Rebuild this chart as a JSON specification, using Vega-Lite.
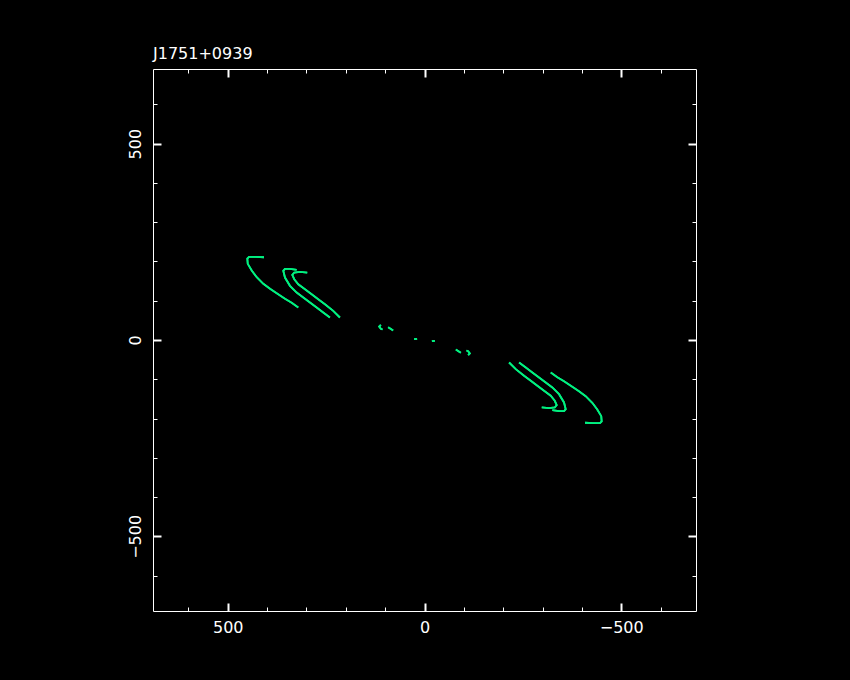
{
  "$schema": "https://vega.github.io/schema/vega-lite/v6.json",
  "width": 543,
  "height": 542,
  "autosize": {"type": "none"},
  "padding": {"left": 153, "top": 69, "right": 154, "bottom": 69},
  "background": "black",
  "title": {"text": "J1751+0939", "anchor": "start", "frame": "group", "color": "white", "font": "DejaVu Sans", "fontSize": 16, "fontWeight": "normal", "offset": -7, "baseline": "alphabetic"},
  "config": {
    "view": {"stroke": null},
    "axis": {
      "domainColor": "white", "domainWidth": 1, "tickColor": "white", "grid": false,
      "labelColor": "white", "labelFont": "DejaVu Sans", "labelFontSize": 16,
      "labelOverlap": false, "labelFlush": false, "labelBound": false
    }
  },
  "data": {"values": [
    {"track": "A", "i": 1, "u": 407.9, "v": 210.7}, {"track": "A", "i": 2, "u": 428.2, "v": 211.7}, {"track": "A", "i": 3, "u": 445.9, "v": 211.7}, {"track": "A", "i": 4, "u": 450.3, "v": 207.4}, {"track": "A", "i": 5, "u": 449.2, "v": 193.9}, {"track": "A", "i": 6, "u": 439.1, "v": 176.8}, {"track": "A", "i": 7, "u": 426.4, "v": 159.8}, {"track": "A", "i": 8, "u": 409.6, "v": 143.0}, {"track": "A", "i": 9, "u": 392.6, "v": 130.3}, {"track": "A", "i": 10, "u": 375.6, "v": 119.1}, {"track": "A", "i": 11, "u": 354.6, "v": 104.8}, {"track": "A", "i": 12, "u": 337.6, "v": 94.7}, {"track": "A", "i": 13, "u": 320.8, "v": 82.7},
    {"track": "B", "i": 1, "u": 324.9, "v": 178.6}, {"track": "B", "i": 2, "u": 341.9, "v": 181.2}, {"track": "B", "i": 3, "u": 354.6, "v": 181.2}, {"track": "B", "i": 4, "u": 358.9, "v": 176.1}, {"track": "B", "i": 5, "u": 354.6, "v": 159.0}, {"track": "B", "i": 6, "u": 341.9, "v": 137.9}, {"track": "B", "i": 7, "u": 324.9, "v": 120.9}, {"track": "B", "i": 8, "u": 308.1, "v": 108.1}, {"track": "B", "i": 9, "u": 291.1, "v": 95.4}, {"track": "B", "i": 10, "u": 274.1, "v": 82.7}, {"track": "B", "i": 11, "u": 257.4, "v": 70.0}, {"track": "B", "i": 12, "u": 240.4, "v": 57.3},
    {"track": "C", "i": 1, "u": 298.0, "v": 171.8}, {"track": "C", "i": 2, "u": 316.5, "v": 173.5}, {"track": "C", "i": 3, "u": 331.0, "v": 171.8}, {"track": "C", "i": 4, "u": 336.0, "v": 165.9}, {"track": "C", "i": 5, "u": 331.0, "v": 154.7}, {"track": "C", "i": 6, "u": 320.8, "v": 142.0}, {"track": "C", "i": 7, "u": 303.8, "v": 129.3}, {"track": "C", "i": 8, "u": 286.8, "v": 116.5}, {"track": "C", "i": 9, "u": 270.1, "v": 103.8}, {"track": "C", "i": 10, "u": 253.0, "v": 91.1}, {"track": "C", "i": 11, "u": 232.0, "v": 74.3}, {"track": "C", "i": 12, "u": 215.0, "v": 57.3},
    {"track": "S1", "i": 1, "u": 110.9, "v": 38.7}, {"track": "S1", "i": 2, "u": 115.2, "v": 34.4}, {"track": "S1", "i": 3, "u": 110.9, "v": 28.5}, {"track": "S1", "i": 4, "u": 106.6, "v": 26.7},
    {"track": "S2", "i": 1, "u": 92.4, "v": 32.6}, {"track": "S2", "i": 2, "u": 86.3, "v": 28.5}, {"track": "S2", "i": 3, "u": 79.7, "v": 24.2},
    {"track": "S3", "i": 1, "u": 26.4, "v": 2.0}, {"track": "S3", "i": 2, "u": 18.8, "v": 3.0},
    {"track": "A'", "i": 1, "u": -407.9, "v": -210.7}, {"track": "A'", "i": 2, "u": -428.2, "v": -211.7}, {"track": "A'", "i": 3, "u": -445.9, "v": -211.7}, {"track": "A'", "i": 4, "u": -450.3, "v": -207.4}, {"track": "A'", "i": 5, "u": -449.2, "v": -193.9}, {"track": "A'", "i": 6, "u": -439.1, "v": -176.8}, {"track": "A'", "i": 7, "u": -426.4, "v": -159.8}, {"track": "A'", "i": 8, "u": -409.6, "v": -143.0}, {"track": "A'", "i": 9, "u": -392.6, "v": -130.3}, {"track": "A'", "i": 10, "u": -375.6, "v": -119.1}, {"track": "A'", "i": 11, "u": -354.6, "v": -104.8}, {"track": "A'", "i": 12, "u": -337.6, "v": -94.7}, {"track": "A'", "i": 13, "u": -320.8, "v": -82.7},
    {"track": "B'", "i": 1, "u": -324.9, "v": -178.6}, {"track": "B'", "i": 2, "u": -341.9, "v": -181.2}, {"track": "B'", "i": 3, "u": -354.6, "v": -181.2}, {"track": "B'", "i": 4, "u": -358.9, "v": -176.1}, {"track": "B'", "i": 5, "u": -354.6, "v": -159.0}, {"track": "B'", "i": 6, "u": -341.9, "v": -137.9}, {"track": "B'", "i": 7, "u": -324.9, "v": -120.9}, {"track": "B'", "i": 8, "u": -308.1, "v": -108.1}, {"track": "B'", "i": 9, "u": -291.1, "v": -95.4}, {"track": "B'", "i": 10, "u": -274.1, "v": -82.7}, {"track": "B'", "i": 11, "u": -257.4, "v": -70.0}, {"track": "B'", "i": 12, "u": -240.4, "v": -57.3},
    {"track": "C'", "i": 1, "u": -298.0, "v": -171.8}, {"track": "C'", "i": 2, "u": -316.5, "v": -173.5}, {"track": "C'", "i": 3, "u": -331.0, "v": -171.8}, {"track": "C'", "i": 4, "u": -336.0, "v": -165.9}, {"track": "C'", "i": 5, "u": -331.0, "v": -154.7}, {"track": "C'", "i": 6, "u": -320.8, "v": -142.0}, {"track": "C'", "i": 7, "u": -303.8, "v": -129.3}, {"track": "C'", "i": 8, "u": -286.8, "v": -116.5}, {"track": "C'", "i": 9, "u": -270.1, "v": -103.8}, {"track": "C'", "i": 10, "u": -253.0, "v": -91.1}, {"track": "C'", "i": 11, "u": -232.0, "v": -74.3}, {"track": "C'", "i": 12, "u": -215.0, "v": -57.3},
    {"track": "S1'", "i": 1, "u": -110.9, "v": -38.7}, {"track": "S1'", "i": 2, "u": -115.2, "v": -34.4}, {"track": "S1'", "i": 3, "u": -110.9, "v": -28.5}, {"track": "S1'", "i": 4, "u": -106.6, "v": -26.7},
    {"track": "S2'", "i": 1, "u": -92.4, "v": -32.6}, {"track": "S2'", "i": 2, "u": -86.3, "v": -28.5}, {"track": "S2'", "i": 3, "u": -79.7, "v": -24.2},
    {"track": "S3'", "i": 1, "u": -26.4, "v": -2.0}, {"track": "S3'", "i": 2, "u": -18.8, "v": -3.0}
  ]},
  "layer": [
    {
      "mark": {"type": "line", "color": "#00f080", "strokeWidth": 1.8},
      "encoding": {
        "x": {"field": "u", "type": "quantitative", "scale": {"domain": [-690, 690], "reverse": true, "nice": false, "zero": false},
          "axis": {"orient": "bottom", "title": null, "values": [-600, -500, -400, -300, -200, -100, 0, 100, 200, 300, 400, 500, 600],
            "tickSize": {"condition": {"test": "datum.value % 500 === 0", "value": -8}, "value": -4},
            "tickWidth": {"condition": {"test": "datum.value % 500 === 0", "value": 2}, "value": 1},
            "labelExpr": "datum.value % 500 === 0 ? datum.label : ''", "labelPadding": 16}},
        "y": {"field": "v", "type": "quantitative", "scale": {"domain": [-690, 690], "nice": false, "zero": false},
          "axis": {"orient": "left", "title": null, "values": [-600, -500, -400, -300, -200, -100, 0, 100, 200, 300, 400, 500, 600],
            "tickSize": {"condition": {"test": "datum.value % 500 === 0", "value": -8}, "value": -4},
            "tickWidth": {"condition": {"test": "datum.value % 500 === 0", "value": 2}, "value": 1},
            "labelExpr": "datum.value % 500 === 0 ? datum.label : ''", "labelAngle": -90, "labelAlign": "center", "labelBaseline": "bottom", "labelPadding": 18}},
        "detail": {"field": "track"},
        "order": {"field": "i"}
      }
    },
    {
      "mark": {"type": "line", "color": "#00f080", "strokeWidth": 1.8},
      "encoding": {
        "x": {"field": "u", "type": "quantitative",
          "axis": {"orient": "top", "title": null, "labels": false, "values": [-600, -500, -400, -300, -200, -100, 0, 100, 200, 300, 400, 500, 600],
            "tickSize": {"condition": {"test": "datum.value % 500 === 0", "value": -8}, "value": -4},
            "tickWidth": {"condition": {"test": "datum.value % 500 === 0", "value": 2}, "value": 1}}},
        "y": {"field": "v", "type": "quantitative",
          "axis": {"orient": "right", "title": null, "labels": false, "values": [-600, -500, -400, -300, -200, -100, 0, 100, 200, 300, 400, 500, 600],
            "tickSize": {"condition": {"test": "datum.value % 500 === 0", "value": -8}, "value": -4},
            "tickWidth": {"condition": {"test": "datum.value % 500 === 0", "value": 2}, "value": 1}}},
        "detail": {"field": "track"},
        "order": {"field": "i"}
      }
    }
  ],
  "resolve": {"axis": {"x": "independent", "y": "independent"}}
}
